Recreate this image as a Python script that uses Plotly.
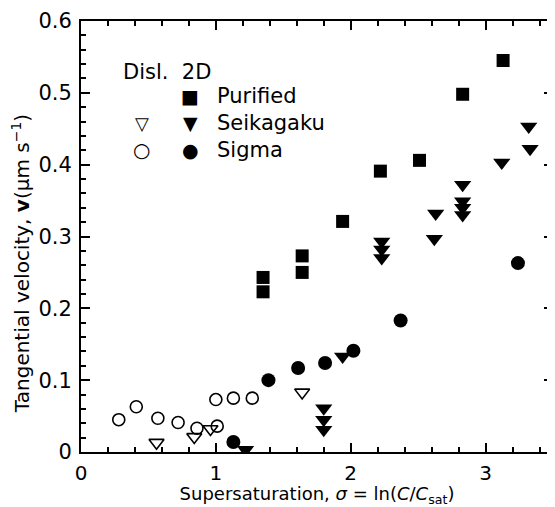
import plotly.graph_objects as go

# ---- data ----
purified_x = [1.35, 1.35, 1.64, 1.64, 1.94, 2.22, 2.51, 2.83, 3.13]
purified_y = [0.243, 0.223, 0.273, 0.250, 0.321, 0.391, 0.406, 0.498, 0.545]

seik_filled_x = [1.22, 1.80, 1.80, 1.80, 1.94, 2.23, 2.23, 2.23, 2.62, 2.63, 2.83, 2.83, 2.83, 2.83, 3.12, 3.32, 3.33]
seik_filled_y = [0.003, 0.061, 0.045, 0.031, 0.133, 0.293, 0.282, 0.270, 0.297, 0.332, 0.372, 0.349, 0.340, 0.330, 0.403, 0.453, 0.422]

seik_open_x = [0.56, 0.84, 0.96, 1.64]
seik_open_y = [0.013, 0.021, 0.032, 0.083]

sigma_filled_x = [1.13, 1.39, 1.61, 1.81, 2.02, 2.37, 3.24]
sigma_filled_y = [0.014, 0.100, 0.117, 0.124, 0.141, 0.183, 0.263]

sigma_open_x = [0.28, 0.41, 0.57, 0.72, 0.86, 1.01, 1.00, 1.13, 1.27]
sigma_open_y = [0.045, 0.063, 0.047, 0.041, 0.033, 0.036, 0.073, 0.075, 0.075]

x_ticks = [0, 1, 2, 3]
y_ticks = [0, 0.1, 0.2, 0.3, 0.4, 0.5, 0.6]
y_ticktext = ["0", "0.1", "0.2", "0.3", "0.4", "0.5", "0.6"]

FONT = "DejaVu Sans, Liberation Sans, Arial, sans-serif"
BLACK = "#000000"

fig = go.Figure()
fig.add_trace(go.Scatter(x=sigma_open_x, y=sigma_open_y, mode="markers",
                         marker=dict(symbol="circle-open", size=12, color=BLACK, line=dict(width=1.6))))
fig.add_trace(go.Scatter(x=seik_open_x, y=seik_open_y, mode="markers",
                         marker=dict(symbol="triangle-down-open", size=13, color=BLACK, line=dict(width=1.6))))
fig.add_trace(go.Scatter(x=purified_x, y=purified_y, mode="markers",
                         marker=dict(symbol="square", size=13, color=BLACK)))
fig.add_trace(go.Scatter(x=seik_filled_x, y=seik_filled_y, mode="markers",
                         marker=dict(symbol="triangle-down", size=15, color=BLACK)))
fig.add_trace(go.Scatter(x=sigma_filled_x, y=sigma_filled_y, mode="markers",
                         marker=dict(symbol="circle", size=14, color=BLACK)))

axis_common = dict(showline=True, linecolor=BLACK, linewidth=2, mirror="ticks",
                   ticks="inside", tickcolor=BLACK, tickwidth=1.5, ticklen=9,
                   showgrid=False, zeroline=False, automargin=False)

fig.update_xaxes(range=[0, 3.5], tickvals=x_ticks, ticklabelstandoff=2,
                 tickfont=dict(family=FONT, size=20, color=BLACK),
                 minor=dict(dtick=0.2, tick0=0, ticks="inside", ticklen=5, tickcolor=BLACK, tickwidth=1.5),
                 title=dict(text="Supersaturation, <i>σ</i> = ln(<i>C</i>/<i>C</i><sub>sat</sub>)",
                            font=dict(family=FONT, size=18, color=BLACK), standoff=12),
                 **axis_common)
fig.update_yaxes(range=[0, 0.6], tickvals=y_ticks, ticktext=y_ticktext, ticklabelstandoff=3,
                 tickfont=dict(family=FONT, size=21, color=BLACK),
                 minor=dict(dtick=0.02, tick0=0, ticks="inside", ticklen=5, tickcolor=BLACK, tickwidth=1.5),
                 **axis_common)

# legend drawn as text
leg_font = dict(family=FONT, size=21, color=BLACK)
sym_font = dict(family="DejaVu Sans", size=19, color=BLACK)
ann = [
    dict(x=0.30, y=0.529, text="Disl.  2D", font=leg_font, xanchor="left"),
    dict(x=0.81, y=0.495, text="■", font=sym_font, xanchor="center"),
    dict(x=0.99, y=0.495, text="Purified", font=leg_font, xanchor="left"),
    dict(x=0.45, y=0.458, text="▽", font=dict(family="DejaVu Sans", size=18, color=BLACK), xanchor="center"),
    dict(x=0.81, y=0.458, text="▼", font=sym_font, xanchor="center"),
    dict(x=0.99, y=0.458, text="Seikagaku", font=leg_font, xanchor="left"),
    dict(x=0.45, y=0.421, text="○", font=dict(family="DejaVu Sans", size=20, color=BLACK), xanchor="center"),
    dict(x=0.81, y=0.421, text="●", font=sym_font, xanchor="center"),
    dict(x=0.99, y=0.421, text="Sigma", font=leg_font, xanchor="left"),
]
for a in ann:
    a.update(xref="x", yref="y", showarrow=False, yanchor="middle")
# y-axis title (placed as rotated text, shifted down like the original)
ann.append(dict(xref="paper", yref="paper", x=-0.127, y=0.436, textangle=-90,
                text="Tangential velocity, <b>v</b>(µm s<sup>−1</sup>)", showarrow=False,
                xanchor="center", yanchor="middle",
                font=dict(family=FONT, size=20, color=BLACK)))
fig.update_layout(annotations=ann)

# page body has an 8px margin, so the figure is sized/offset to match
fig.update_layout(width=547, height=499, showlegend=False,
                  plot_bgcolor="white", paper_bgcolor="white",
                  margin=dict(l=73, r=2, t=13, b=55),
                  font=dict(family=FONT, color=BLACK))

fig.write_html("out.html")
